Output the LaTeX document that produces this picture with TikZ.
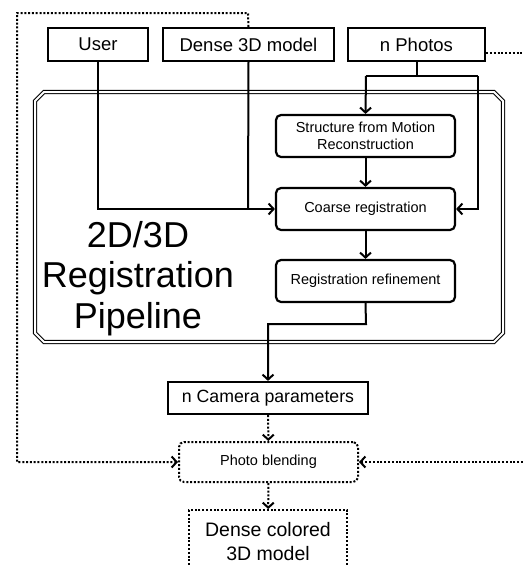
\documentclass[tikz,border=0pt]{standalone}
\usepackage{fontspec}
\setmainfont{Liberation Sans}
\usetikzlibrary{arrows.meta}
\begin{document}
\begin{tikzpicture}[x=1pt,y=-1pt,
  line width=2pt,
  tip/.style={-{Straight Barb[length=5pt,width=11pt,line width=2pt]}},
  dots/.style={line width=2pt,dash pattern=on 2pt off 1.8pt},
  inbox/.style={draw,rectangle,line width=2.2pt,inner sep=0pt,font=\fontsize{18.5}{20}\selectfont,minimum height=33pt},
  stepbox/.style={draw,rectangle,rounded corners=5pt,line width=2.2pt,inner sep=0pt,minimum width=179pt,minimum height=42pt,align=center,font=\fontsize{14.5}{17}\selectfont},
  frameline/.style={double,double distance=2pt,line width=1.1pt,line join=miter}
]
\useasboundingbox (0,0) rectangle (523,566);

% outer frame (chamfered, double line)
\draw[frameline] (44,92) -- (494,92) -- (503,101) -- (503,333) -- (494,342) -- (44,342) -- (35,333) -- (35,101) -- cycle;
\node[align=center,font=\fontsize{36}{40.5}\selectfont,anchor=base] (title) at (138,328) {2D/3D\\Registration\\Pipeline};

% input boxes
\node[inbox,minimum width=100pt] (user) at (98,44.5) {User};
\node[inbox,minimum width=171pt] (dense) at (248.5,44.5) {Dense 3D model};
\node[inbox,minimum width=137pt] (photos) at (416.5,44.5) {n Photos};

% pipeline boxes
\node[stepbox] (sfm) at (365.5,136) {Structure from Motion\\Reconstruction};
\node[stepbox] (coarse) at (365.5,209) {Coarse registration};
\node[stepbox] (refine) at (365.5,281) {Registration refinement};

% output boxes
\node[inbox,minimum width=200pt,minimum height=32pt,font=\fontsize{17.7}{20}\selectfont] (camera) at (268,398) {n Camera parameters};
\node[draw,rectangle,rounded corners=5pt,dots,minimum width=179pt,minimum height=40pt,inner sep=0pt,font=\fontsize{14.5}{17}\selectfont] (blend) at (268.5,462) {Photo blending};
\node[draw,rectangle,dots,anchor=north,minimum width=158pt,minimum height=64pt,inner sep=0pt,align=center,
  font=\fontsize{19.5}{24}\selectfont] (result) at (268,509) {Dense colored\\3D model};

% coordinates
\coordinate (pj) at (416.5,76);
\coordinate (pl) at (366,76);
\coordinate (pr) at (478,76);
\coordinate (jn) at (248,209);
\coordinate (bend) at (366,324);
\coordinate (lt) at (248,13);
\coordinate (ltl) at (17,13);
\coordinate (rt) at (523,53);
\coordinate (rb) at (523,462);

% solid connectors
\draw[tip] (user.south) |- (coarse.west);
\draw (dense.south) -- (jn);
\draw (photos.south) -- (pj);
\draw (pl) -- (pr);
\draw[tip] (pl) -- (sfm.north);
\draw[tip] (pr) |- (coarse.east);
\draw[tip] (sfm) -- (coarse);
\draw[tip] (coarse) -- (refine);
\draw[tip] (refine.south) -- (bend) -| (camera.north);

% dotted connectors
\draw[dots,tip] (camera) -- (blend);
\draw[dots,tip] (blend) -- (result);
\draw[dots,tip] (dense.north) -- (lt) -- (ltl) |- (blend.west);
\draw[dots] (photos.east |- rt) -- (rt);
\draw[dots,tip] (rb) -- (blend.east);
\end{tikzpicture}
\end{document}
